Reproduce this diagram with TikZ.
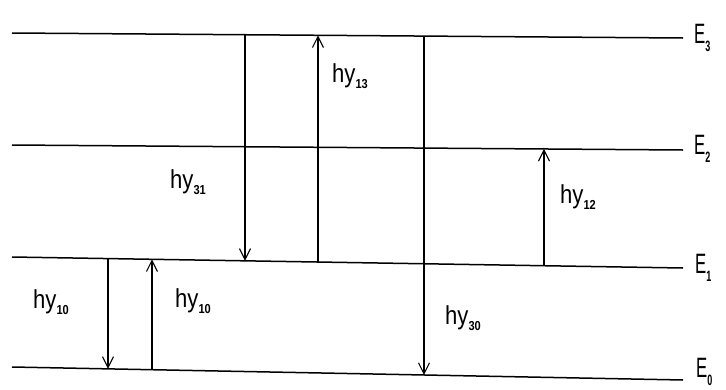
\documentclass[tikz,border=0pt]{standalone}
\usepackage{fontspec}
\setmainfont{Liberation Sans}
\usetikzlibrary{arrows.meta,calc}
\newcommand\sbs[1]{\raisebox{-6pt}{\fontsize{13}{13}\selectfont\bfseries #1}}
\newcommand\esb[1]{\raisebox{-8pt}{\fontsize{15}{15}\selectfont\bfseries #1}}
\tikzset{
  level/.style={line width=1.5pt},
  trans/.style={line width=1.1pt,-{Straight Barb[length=11pt,width=11pt,line width=1.1pt]}},
  lbl/.style={font=\fontsize{26}{26}\selectfont,xscale=0.85,inner sep=0pt},
  elbl/.style={font=\fontsize{28}{28}\selectfont,xscale=0.6,inner sep=0pt,anchor=base west}
}
\newcommand\onl[3]{\coordinate (#3) at ($(#1w)!{(#2-12)/671}!(#1e)$);}
\begin{document}
\begin{tikzpicture}[x=1pt,y=-1pt]
\useasboundingbox (0,0) rectangle (726,389);
% levels
\coordinate (E3w) at (12,33);  \coordinate (E3e) at (683,38);
\coordinate (E2w) at (12,145); \coordinate (E2e) at (683,150);
\coordinate (E1w) at (12,257); \coordinate (E1e) at (683,268);
\coordinate (E0w) at (12,367); \coordinate (E0e) at (683,380);
\draw[level] (E3w) -- (E3e);
\draw[level] (E2w) -- (E2e);
\draw[level] (E1w) -- (E1e);
\draw[level] (E0w) -- (E0e);
\node[elbl] (L3) at (694,43) {E\esb{3}};
\node[elbl] (L2) at (694,154) {E\esb{2}};
\node[elbl] (L1) at (695,273) {E\esb{1}};
\node[elbl] (L0) at (696,377) {E\esb{0}};
% arrow end points
\onl{E3}{245}{a31s} \onl{E1}{245}{a31e}
\onl{E1}{318}{a13s} \onl{E3}{318}{a13e}
\onl{E3}{424}{a30s} \onl{E0}{424}{a30e}
\onl{E1}{544}{a12s} \onl{E2}{544}{a12e}
\onl{E1}{108}{a10s} \onl{E0}{108}{a10e}
\onl{E0}{152}{b10s} \onl{E1}{152}{b10e}
\draw[trans] (a31s) -- (a31e);
\draw[trans] (a13s) -- (a13e);
\draw[trans] (a30s) -- (a30e);
\draw[trans] (a12s) -- (a12e);
\draw[trans] (a10s) -- (a10e);
\draw[trans] (b10s) -- (b10e);
% labels
\node[lbl] (t13) at (350,76) {hy\sbs{13}};
\node[lbl] (t31) at (188,182) {hy\sbs{31}};
\node[lbl] (t12) at (578,197) {hy\sbs{12}};
\node[lbl] (t10a) at (51,302) {hy\sbs{10}};
\node[lbl] (t10b) at (193,301) {hy\sbs{10}};
\node[lbl] (t30) at (463,318) {hy\sbs{30}};
\end{tikzpicture}
\end{document}
